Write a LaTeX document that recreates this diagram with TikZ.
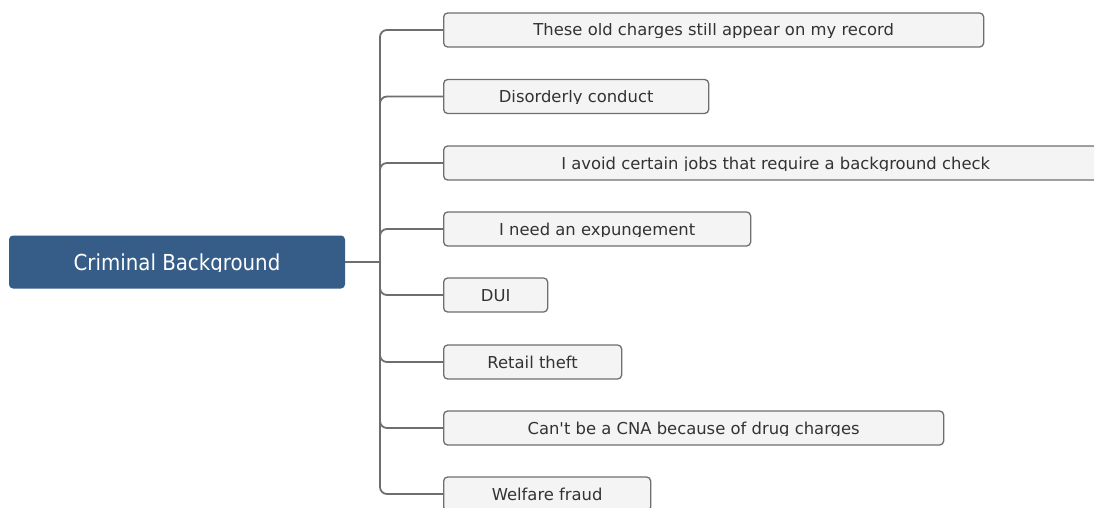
\documentclass[tikz,border=0pt]{standalone}
\usepackage{fontspec}
\usepackage{trimclip}
\newfontfamily\topicfont{DejaVu Sans Condensed}
\newfontfamily\leaffont{DejaVu Sans}
\definecolor{topicblue}{RGB}{54,92,136}
\definecolor{boxgray}{RGB}{244,244,244}
\definecolor{linegray}{RGB}{110,110,110}
\definecolor{textgray}{RGB}{51,51,51}
\newcommand{\cutdesc}[1]{\clipbox{0pt 0pt 0pt 0pt}{\raisebox{0pt}[\height][1.5pt]{#1}}}
\tikzset{topic/.style={draw=none, fill=topicblue, rounded corners=4pt, text=white, font=\topicfont\fontsize{22}{26}\selectfont, minimum width=336pt, minimum height=53pt, inner sep=0pt, text height=16pt, text depth=-2pt},
	leaf/.style={draw=linegray, line width=1.3pt, fill=boxgray, rounded corners=4pt, text=textgray, font=\leaffont\fontsize{16.4}{19}\selectfont, minimum height=34pt, inner sep=0pt, anchor=west, text height=12pt, text depth=-3pt},
	link/.style={draw=linegray, line width=1.8pt, rounded corners=7pt}}

\begin{document}
\begin{tikzpicture}[x=1pt,y=-1pt]
		\useasboundingbox (0,0) rectangle (1094,508); %page size
		\node[topic] (main) at (177,262) {\cutdesc{Criminal Background}}; %the root
		\coordinate (hub) at (380,262);
		\draw[link] (main.east) -- (hub);
		\foreach \i/\y/\w/\txt in {1/30/540/{These old charges still appear on my record},
			2/96.5/265/{Disorderly conduct},
			3/163/664/{I avoid certain jobs that require a background check},
			4/229/307/{I need an expungement},
			5/295/104/{DUI},
			6/362/178/{Retail theft},
			7/428/500/{Can't be a CNA because of drug charges},
			8/494/207/{Welfare fraud}}
		{
		\node[leaf, minimum width=\w pt] (c\i) at (443,\y) {\cutdesc{\txt}}; %puts a branch
		\draw[link] (hub) |- (c\i.west); %joins it to the trunk
		}
	\end{tikzpicture}
\end{document}
